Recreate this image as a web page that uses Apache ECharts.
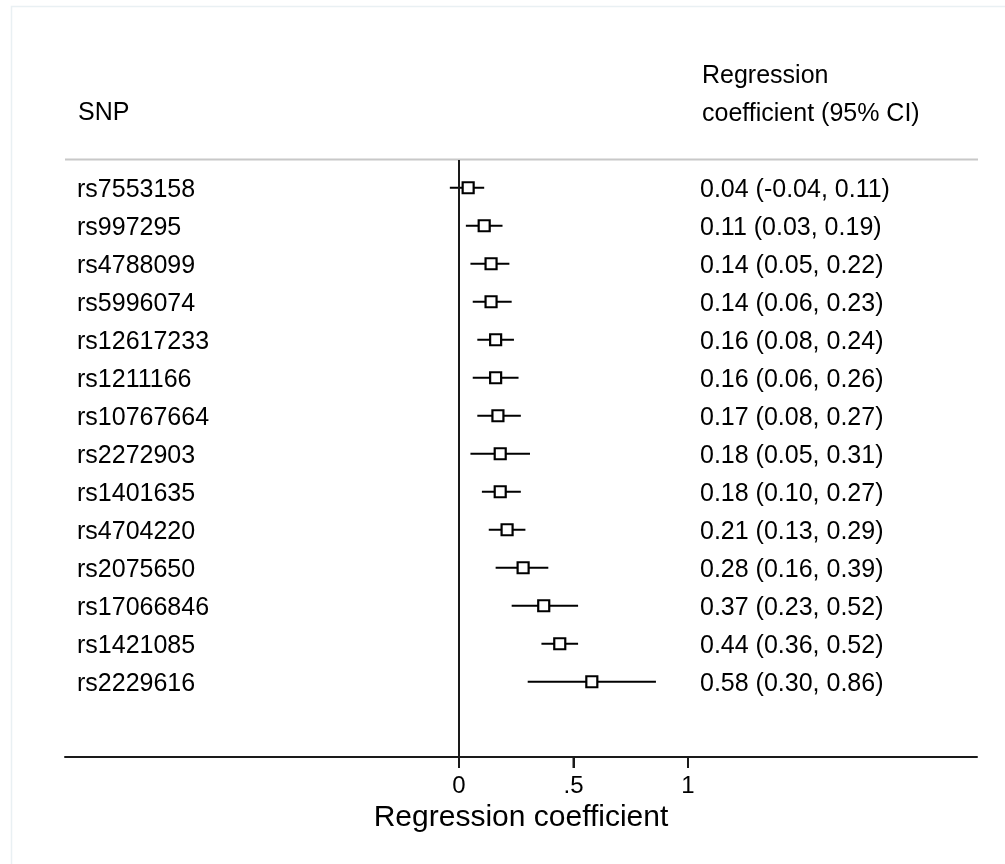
<!DOCTYPE html>
<html>
<head>
<meta charset="utf-8">
<script src="https://cdn.jsdelivr.net/npm/echarts@6/dist/echarts.min.js"></script>
<style>
html,body{margin:0;padding:0;background:#fff;}
#chart{width:1005px;height:864px;}
</style>
</head>
<body>
<div id="chart"></div>
<script>
const snps = ['rs7553158','rs997295','rs4788099','rs5996074','rs12617233','rs1211166','rs10767664','rs2272903','rs1401635','rs4704220','rs2075650','rs17066846','rs1421085','rs2229616'];
const estimates = [0.04,0.11,0.14,0.14,0.16,0.16,0.17,0.18,0.18,0.21,0.28,0.37,0.44,0.58];
const lowerCI  = [-0.04,0.03,0.05,0.06,0.08,0.06,0.08,0.05,0.10,0.13,0.16,0.23,0.36,0.30];
const upperCI  = [0.11,0.19,0.22,0.23,0.24,0.26,0.27,0.31,0.27,0.29,0.39,0.52,0.52,0.86];
const xTickValues = [0, 0.5, 1];
const xTickLabels = ['0', '.5', '1'];

const FONT = '"Liberation Sans", Arial, Helvetica, sans-serif';
const Y_MIN = -0.73, Y_MAX = 14.98;
const chart = echarts.init(document.getElementById('chart'));

const data = snps.map((s, i) => [i, estimates[i], lowerCI[i], upperCI[i]]);

function fmt(v){ return v.toFixed(2); }

const option = {
  backgroundColor: '#fff',
  animation: false,
  grid: { left: 65, right: 28, top: 160, bottom: 107, containLabel: false },
  xAxis: {
    type: 'value',
    min: -1.7205,
    max: 2.262,
    axisLine: { show: true, onZero: false, lineStyle: { color: '#1a1a1a', width: 2 } },
    axisTick: { show: true, customValues: xTickValues, length: 11, inside: false, lineStyle: { color: '#1a1a1a', width: 2 } },
    axisLabel: {
      show: true, customValues: xTickValues, margin: 17,
      fontFamily: FONT, fontSize: 24, color: '#000',
      formatter: v => { const k = xTickValues.indexOf(v); return k >= 0 ? xTickLabels[k] : ''; }
    },
    splitLine: { show: false },
    name: 'Regression coefficient',
    nameLocation: 'middle',
    nameGap: 44,
    nameTextStyle: { fontFamily: FONT, fontSize: 30, color: '#000' }
  },
  yAxis: {
    type: 'value', inverse: true, min: Y_MIN, max: Y_MAX, show: false
  },
  graphic: [
    { type: 'rect', silent: true, shape: { x: 11.5, y: 6.5, width: 1100, height: 1000 },
      style: { fill: 'none', stroke: '#e9f0f3', lineWidth: 1.5 } },
    { type: 'line', silent: true, shape: { x1: 65, y1: 159.5, x2: 978, y2: 159.5 },
      style: { stroke: '#c8c8c8', lineWidth: 2 } },
    { type: 'text', left: 78, top: 101, style: { text: 'SNP', font: '25px ' + FONT, fill: '#000' } },
    { type: 'text', left: 702, top: 64, style: { text: 'Regression', font: '25px ' + FONT, fill: '#000' } },
    { type: 'text', left: 702, top: 102, style: { text: 'coefficient (95% CI)', font: '25px ' + FONT, fill: '#000' } }
  ],
  series: [{
    type: 'custom',
    clip: false,
    data: data,
    encode: { x: [1, 2, 3], y: 0 },
    renderItem: function (params, api) {
      const i = api.value(0);
      const est = api.value(1), lo = api.value(2), hi = api.value(3);
      const pe = api.coord([est, i]);
      const pl = api.coord([lo, i]);
      const ph = api.coord([hi, i]);
      const y = pe[1];
      const s = 11;
      const children = [
        { type: 'line', shape: { x1: pl[0], y1: y, x2: ph[0], y2: y },
          style: { stroke: '#000', lineWidth: 2.2 } },
        { type: 'rect', shape: { x: pe[0] - s / 2, y: y - s / 2, width: s, height: s },
          style: { fill: '#fff', stroke: '#000', lineWidth: 2.2 } },
        { type: 'text', x: 77, y: y + 2,
          style: { text: snps[i], font: '25px ' + FONT, fill: '#000', verticalAlign: 'middle', align: 'left' } },
        { type: 'text', x: 700, y: y + 2,
          style: { text: fmt(est) + ' (' + fmt(lo) + ', ' + fmt(hi) + ')', font: '25px ' + FONT, fill: '#000', verticalAlign: 'middle', align: 'left' } }
      ];
      if (params.dataIndex === 0) {
        xTickValues.forEach(v => {
          const p = api.coord([v, Y_MAX]);
          children.push({ type: 'line', shape: { x1: p[0], y1: p[1], x2: p[0], y2: p[1] + 11 },
            style: { stroke: '#1a1a1a', lineWidth: 2 } });
        });
      }
      return { type: 'group', children: children };
    },
    markLine: {
      silent: true, symbol: 'none', label: { show: false },
      lineStyle: { color: '#1a1a1a', width: 2, type: 'solid' },
      data: [{ xAxis: 0 }]
    }
  }]
};
chart.setOption(option);
</script>
</body>
</html>
